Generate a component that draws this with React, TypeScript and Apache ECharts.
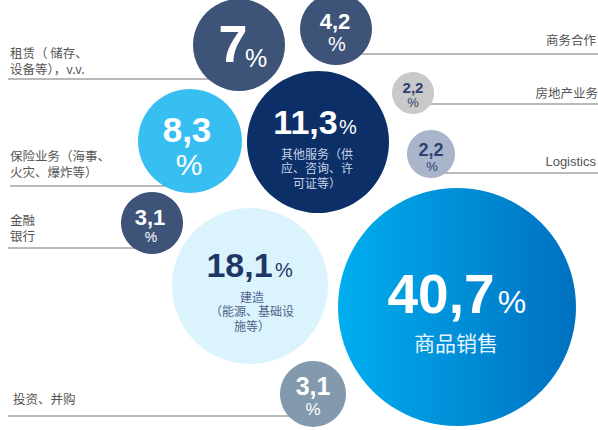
import React, { useEffect, useRef } from "react";
import * as echarts from "echarts";

// ---- data ----
const categories = [
  "商品销售",
  "建造（能源、基础设施等）",
  "其他服务（供应、咨询、许可证等）",
  "保险业务（海事、火灾、爆炸等）",
  "租赁（ 储存、设备等），v.v.",
  "商务合作",
  "金融银行",
  "投资、并购",
  "房地产业务",
  "Logistics",
];
const shares = [40.7, 18.1, 11.3, 8.3, 7.0, 4.2, 3.1, 3.1, 2.2, 2.2];
const shareLabels = ["40,7", "18,1", "11,3", "8,3", "7", "4,2", "3,1", "3,1", "2,2", "2,2"];
// text written inside bubbles (under the number)
const innerTexts: string[][] = [
  ["商品销售"],
  ["建造", "（能源、基础设", "施等）"],
  ["其他服务（供", "应、咨询、许", "可证等）"],
  [], [], [], [], [], [], [],
];
// text written outside bubbles, beside the leader lines
const outerTexts: string[][] = [
  [], [], [],
  ["保险业务（海事、", "火灾、爆炸等）"],
  ["租赁（ 储存、", "设备等），v.v."],
  ["商务合作"],
  ["金融", "银行"],
  ["投资、并购"],
  ["房地产业务"],
  ["Logistics"],
];

// ---- layout (positions / sizes / styles) ----
const W = 598;
const H = 430;
const centers: [number, number][] = [
  [457, 307], [250, 286], [318, 142], [190, 141], [239, 45],
  [336, 29], [152, 223], [313, 394], [413, 93], [431, 154],
];
const radii = [119, 78, 71, 52, 46, 36, 31, 33, 21, 24];
const fills: any[] = [
  "grad", "#dbf3fd", "#0b2f66", "#38bff2", "#3d5378",
  "#3d5378", "#3d5378", "#8299ae", "#c9c9c9", "#a9b5ca",
];
const numColors = ["#ffffff", "#1f3765", "#ffffff", "#ffffff", "#ffffff", "#ffffff", "#ffffff", "#ffffff", "#2d4270", "#2d4270"];
const subColors = ["#e6f4ff", "#4f6288", "#c8d3e6", "", "", "", "", "", "", ""];
// [dx, dy, fontSize] for number and percent sign
const numPos = [
  [-16, -13, 55], [-10.5, -21, 34], [-12.5, -20, 34], [-3, -11.5, 35], [-6, -1, 52],
  [-1, -8, 22], [-2, -6, 22], [0, -8, 25], [0, -6, 15], [0, -4, 18],
];
const pctPos = [
  [55, -5, 32], [34, -16, 20], [30, -15, 20], [-1, 23, 30], [17, 13, 25],
  [1, 15, 20], [-1, 14, 14], [0, 15, 17], [0, 9, 13], [1, 12, 13],
];
// [dx, firstDy, lineStep, fontSize] for inner texts
const subPos = [
  [-1, 35, 22, 21], [2, 10, 14.5, 12], [-1, 11, 14.5, 12],
];
// outer label: [x, firstY, lineStep, align], leader line: [x1, x2, y]
const outerPos: any[] = [
  null, null, null,
  [10, 155, 16, "left"], [10, 52, 16, "left"], [596, 39, 16, "right"],
  [10, 219, 16, "left"], [13, 398, 16, "left"], [598, 92, 16, "right"], [596, 161, 16, "right"],
];
const leaderLines: any[] = [
  null, null, null,
  [10, 190, 186], [8, 239, 79], [336, W, 54],
  [8, 152, 248], [8, 313, 416], [413, W, 104], [431, W, 173],
];

const NUM_FONT = '"Liberation Sans", Arial, sans-serif';
const CJK_FONT = '"Noto Sans CJK SC", "Noto Sans", sans-serif';

export default function App() {
  const ref = useRef<HTMLDivElement>(null);

  useEffect(() => {
    if (!ref.current) return;
    const chart = echarts.init(ref.current, undefined, { renderer: "svg" });

    const grad = new echarts.graphic.LinearGradient(0, 0, 1, 0, [
      { offset: 0, color: "#00aeef" },
      { offset: 1, color: "#0070c0" },
    ]);

    chart.setOption({
      animation: false,
      grid: { left: 0, top: 0, right: 0, bottom: 0 },
      xAxis: { type: "value", min: 0, max: W, show: false },
      yAxis: { type: "value", min: 0, max: H, inverse: true, show: false },
      series: [
        {
          type: "scatter",
          z: 10,
          silent: true,
          data: shares.map((v, i) => ({
            name: categories[i],
            value: [centers[i][0], centers[i][1], v],
            symbolSize: radii[i] * 2,
            itemStyle: { color: fills[i] === "grad" ? grad : fills[i], opacity: 1 },
          })),
          emphasis: { disabled: true },
        },
      ],
    });

    const graphics: any[] = [];
    shares.forEach((_, i) => {
      const p = chart.convertToPixel({ gridIndex: 0 }, [centers[i][0], centers[i][1]]) as number[];
      const [cx, cy] = p;
      const ll = leaderLines[i];
      if (ll) {
        graphics.push({
          type: "line",
          z: 0,
          silent: true,
          shape: { x1: ll[0], y1: ll[2], x2: ll[1], y2: ll[2] },
          style: { stroke: "#a3a3a3", lineWidth: 1.5 },
        });
      }
      graphics.push({
        type: "text",
        z: 100,
        x: cx + numPos[i][0],
        y: cy + numPos[i][1],
        style: {
          text: shareLabels[i],
          fill: numColors[i],
          font: `bold ${numPos[i][2]}px ${NUM_FONT}`,
          align: "center",
          verticalAlign: "middle",
        },
      });
      graphics.push({
        type: "text",
        z: 100,
        x: cx + pctPos[i][0],
        y: cy + pctPos[i][1],
        style: {
          text: "%",
          fill: numColors[i],
          font: `${pctPos[i][2]}px ${NUM_FONT}`,
          align: "center",
          verticalAlign: "middle",
        },
      });
      const inner = innerTexts[i];
      if (inner.length) {
        const sp = subPos[i];
        graphics.push({
          type: "text",
          z: 100,
          x: cx + sp[0],
          y: cy + sp[1] + ((inner.length - 1) * sp[2]) / 2,
          style: {
            text: inner.join("\n"),
            fill: subColors[i],
            fontSize: sp[3],
            fontFamily: CJK_FONT,
            lineHeight: sp[2],
            align: "center",
            verticalAlign: "middle",
          },
        });
      }
      const op = outerPos[i];
      if (op) {
        const lines = outerTexts[i];
        graphics.push({
          type: "text",
          z: 100,
          x: op[0],
          y: op[1] + ((lines.length - 1) * op[2]) / 2,
          style: {
            text: lines.join("\n"),
            fill: "#555555",
            fontSize: lines[0] === "Logistics" ? 13 : 12.5,
            fontFamily: lines[0] === "Logistics" ? NUM_FONT : CJK_FONT,
            lineHeight: op[2],
            align: op[3],
            verticalAlign: "middle",
          },
        });
      }
    });

    chart.setOption({ graphic: { elements: graphics } });

    return () => chart.dispose();
  }, []);

  return (
    <div
      ref={ref}
      style={{ position: "absolute", left: 0, top: 0, width: W, height: H, background: "#ffffff" }}
    />
  );
}
